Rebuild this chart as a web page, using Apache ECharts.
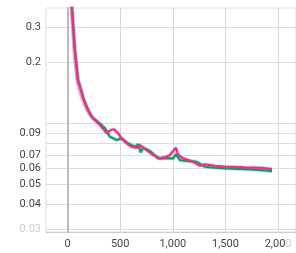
<!DOCTYPE html>
<html><head><meta charset="utf-8">
<script src="https://cdn.jsdelivr.net/npm/echarts@6/dist/echarts.min.js"></script>
<style>html,body{margin:0;padding:0;background:#fff}#c{width:296px;height:253px}</style>
</head><body><div id="c"></div>
<script>
const xTicks = [0, 500, 1000, 1500, 2000];
const yTicks = [0.03, 0.04, 0.05, 0.06, 0.07, 0.08, 0.09, 0.1, 0.2, 0.3];
const yLabels = [0.03, 0.04, 0.05, 0.06, 0.07, 0.09, 0.2, 0.3];

const pinkSteps = [20, 41, 69, 79, 98, 155, 196, 243, 307, 371, 410, 440, 481, 513, 561, 608, 656, 687, 703, 751, 814, 877, 941, 972, 1029, 1051, 1099, 1194, 1258, 1305, 1400, 1495, 1685, 1844, 1942];
const pinkValues = [0.6, 0.37, 0.231, 0.206, 0.164, 0.1308, 0.1167, 0.1062, 0.0985, 0.0900, 0.0930, 0.0938, 0.0896, 0.0846, 0.0799, 0.0769, 0.0760, 0.0784, 0.0769, 0.0741, 0.0700, 0.0674, 0.0686, 0.0700, 0.0760, 0.0700, 0.0674, 0.0648, 0.0620, 0.0630, 0.0620, 0.0613, 0.0609, 0.0606, 0.0597];

const greenSteps = [20, 41, 69, 79, 98, 155, 196, 228, 323, 355, 402, 466, 513, 576, 640, 672, 695, 719, 782, 861, 941, 1004, 1029, 1068, 1131, 1226, 1305, 1400, 1495, 1685, 1844, 1942];
const greenValues = [0.6, 0.38, 0.235, 0.208, 0.166, 0.131, 0.116, 0.1081, 0.0985, 0.0948, 0.0862, 0.0830, 0.0846, 0.0799, 0.0769, 0.0790, 0.0722, 0.0760, 0.0732, 0.0674, 0.0674, 0.0674, 0.0706, 0.0661, 0.0654, 0.0648, 0.0613, 0.0606, 0.0602, 0.0597, 0.0590, 0.0583];

const rawPinkSteps = [20, 41, 60, 79, 98, 155, 196, 243];
const rawPinkValues = [0.5, 0.3, 0.205, 0.17, 0.148, 0.122, 0.112, 0.105];

const PINK = '#e8318a', GREEN = '#0f9d63';

function pairs(s, v) { return s.map((x, i) => [x, v[i]]); }

const chart = echarts.init(document.getElementById('c'), null, {renderer: 'canvas'});
chart.setOption({
  animation: false,
  grid: {left: 46, right: 0, top: 8, bottom: 21, show: true, borderColor: '#ddd', borderWidth: 1},
  xAxis: {
    type: 'value', min: -205, max: 2170,
    axisLine: {show: true, onZero: false, lineStyle: {color: '#ccc'}},
    axisTick: {show: false, customValues: xTicks},
    splitLine: {show: true, lineStyle: {color: '#d6d6d6', width: 1}},
    axisLabel: {customValues: xTicks, color: '#444', fontFamily: 'Roboto', fontSize: 11, margin: 7,
      formatter: v => v === 2000 ? '2,00{f|0}' : v.toLocaleString('en-US'),
      rich: {f: {color: '#ccc', fontFamily: 'Roboto', fontSize: 11}}}
  },
  yAxis: {
    type: 'log', min: 0.0292, max: 0.372,
    axisLine: {show: true, onZero: true, lineStyle: {color: '#bbb', width: 2}},
    axisTick: {show: false, customValues: yTicks},
    splitLine: {show: true, lineStyle: {color: '#ddd', width: 1}},
    axisLabel: {customValues: yLabels, color: '#444', fontFamily: 'Roboto', fontSize: 11, margin: 5,
      formatter: v => v === 0.03 ? '{f|0.03}' : String(v),
      rich: {f: {color: '#ccc', fontFamily: 'Roboto', fontSize: 11}}}
  },
  series: [
    {type: 'line', data: pairs(rawPinkSteps, rawPinkValues), showSymbol: false, clip: true,
      lineStyle: {color: '#f7bdd9', width: 2}, z: 1},
    {type: 'line', data: pairs(greenSteps, greenValues), showSymbol: false, clip: true,
      lineStyle: {color: 'rgba(15,157,99,0.25)', width: 4}, z: 1},
    {type: 'line', data: pairs(pinkSteps, pinkValues), showSymbol: false, clip: true,
      lineStyle: {color: 'rgba(232,49,138,0.2)', width: 4}, z: 1},
    {type: 'line', data: pairs(greenSteps, greenValues), showSymbol: false, clip: true,
      lineStyle: {color: GREEN, width: 2.2}, z: 2},
    {type: 'line', data: pairs(pinkSteps, pinkValues), showSymbol: false, clip: true,
      lineStyle: {color: PINK, width: 2.2}, z: 3}
  ]
});
</script></body></html>
